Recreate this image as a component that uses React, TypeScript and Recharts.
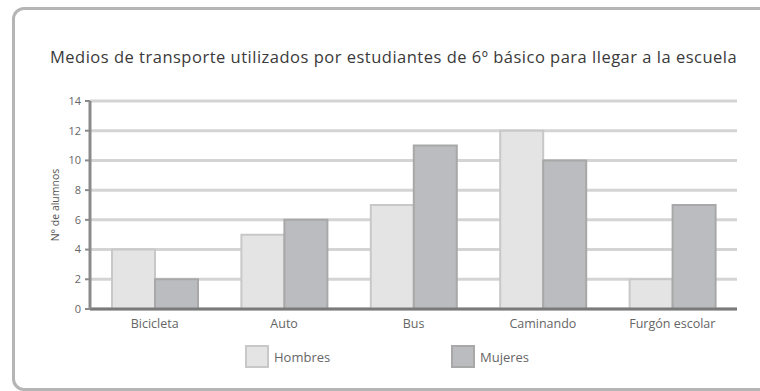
import { BarChart, Bar, XAxis, YAxis, CartesianGrid } from "recharts";

const categories = ["Bicicleta", "Auto", "Bus", "Caminando", "Furgón escolar"];
const hombres = [4, 5, 7, 12, 2];
const mujeres = [2, 6, 11, 10, 7];
const yTicks = [0, 2, 4, 6, 8, 10, 12, 14];

const data = categories.map((name, i) => ({ name, Hombres: hombres[i], Mujeres: mujeres[i] }));

const FONT = "'Open Sans', 'Liberation Sans', sans-serif";

function LegendItem({ label, fill, stroke, left }: { label: string; fill: string; stroke: string; left: number }) {
  return (
    <div style={{ position: "absolute", left, top: 345, display: "flex", alignItems: "center" }}>
      <div style={{ width: 20, height: 19, background: fill, border: `2px solid ${stroke}` }} />
      <span style={{ marginLeft: 5, fontSize: 13, color: "#666", fontFamily: FONT }}>{label}</span>
    </div>
  );
}

export default function App() {
  return (
    <div style={{ position: "absolute", left: 0, top: 0, width: 760, height: 391, background: "#fff", overflow: "hidden" }}>
      <div
        style={{
          position: "absolute",
          left: 12,
          top: 7,
          width: 780,
          height: 378,
          border: "3px solid #b5b5b5",
          borderRadius: 12,
        }}
      />
      <div
        style={{
          position: "absolute",
          left: 50,
          top: 45,
          fontSize: 16.5,
          letterSpacing: 0.5,
          fontFamily: FONT,
          color: "#3a3a3a",
          whiteSpace: "nowrap",
        }}
      >
        Medios de transporte utilizados por estudiantes de 6º básico para llegar a la escuela
      </div>
      <div style={{ position: "absolute", left: 0, top: 0 }}>
        <BarChart
          width={760}
          height={391}
          data={data}
          margin={{ top: 101, right: 23, bottom: 52, left: 0 }}
          barCategoryGap="17%"
          barGap={0}
        >
          <CartesianGrid vertical={false} stroke="#d4d4d4" strokeWidth={3} />
          <XAxis
            dataKey="name"
            height={30}
            tickLine={false}
            axisLine={{ stroke: "#7a7a7a", strokeWidth: 3 }}
            tick={{ fontSize: 12.5, fill: "#666", fontFamily: FONT }}
            tickMargin={4}
          />
          <YAxis
            width={90}
            domain={[0, 14]}
            ticks={yTicks}
            interval={0}
            axisLine={{ stroke: "#8a8a8a", strokeWidth: 3 }}
            tickLine={{ stroke: "#8a8a8a", strokeWidth: 2 }}
            tickSize={5}
            tickMargin={4}
            tick={{ fontSize: 11, fill: "#666", fontFamily: FONT }}
            label={{
              value: "N° de alumnos",
              angle: -90,
              position: "insideLeft",
              offset: 55,
              style: { textAnchor: "middle", fontSize: 10.5, fill: "#555", fontFamily: FONT },
            }}
          />
          <Bar dataKey="Hombres" fill="#e4e4e4" stroke="#c8c8c8" strokeWidth={2} isAnimationActive={false} />
          <Bar dataKey="Mujeres" fill="#bbbcbf" stroke="#a8a8a8" strokeWidth={2} isAnimationActive={false} />
        </BarChart>
      </div>
      <LegendItem label="Hombres" fill="#e4e4e4" stroke="#c8c8c8" left={245} />
      <LegendItem label="Mujeres" fill="#bbbcbf" stroke="#a8a8a8" left={451} />
    </div>
  );
}
